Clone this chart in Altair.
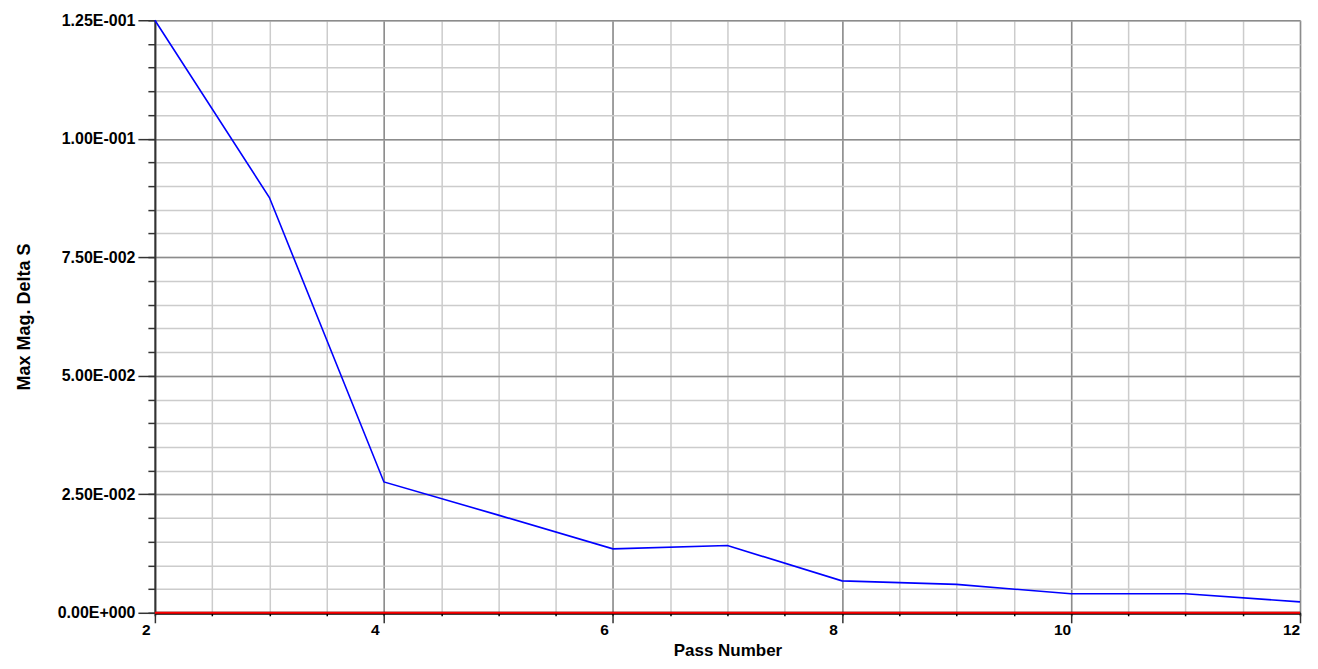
import altair as alt
import pandas as pd

# Data
passes = [2, 3, 4, 5, 6, 7, 8, 9, 10, 11, 12]
delta_s = [0.1250, 0.0876, 0.0276, 0.0206, 0.01348, 0.01418, 0.00674, 0.0060, 0.0040, 0.0040, 0.0023]
baseline = [0.0] * len(passes)

x_major = [2, 4, 6, 8, 10, 12]
x_minor = [2, 2.5, 3, 3.5, 4, 4.5, 5, 5.5, 6, 6.5, 7, 7.5, 8, 8.5, 9, 9.5, 10, 10.5, 11, 11.5, 12]
y_major = [0.0, 0.025, 0.05, 0.075, 0.1, 0.125]
y_labels = ["0.00E+000", "2.50E-002", "5.00E-002", "7.50E-002", "1.00E-001", "1.25E-001"]
y_minor = [i * 0.005 for i in range(26)]

df = pd.DataFrame({"pass": passes, "delta": delta_s, "base": baseline})

FONT = "Liberation Sans"
xs = alt.Scale(domain=[2, 12], nice=False, zero=False)
ys = alt.Scale(domain=[0, 0.125], nice=False)

step = y_major[1] - y_major[0]
label_expr = "[" + ",".join("'%s'" % s for s in y_labels) + "][round(datum.value / %r)]" % step

minor = alt.Chart(df).mark_point(opacity=0).encode(
    x=alt.X("pass:Q", scale=xs, axis=alt.Axis(
        values=x_minor, grid=True, gridColor="#cccccc", gridWidth=1.5,
        labels=False, ticks=True, tickSize=3, tickColor="#000000", tickWidth=1.5,
        domain=False, title=None, orient="bottom")),
    y=alt.Y("delta:Q", scale=ys, axis=alt.Axis(
        values=y_minor, grid=True, gridColor="#cccccc", gridWidth=1.5,
        labels=False, ticks=True, tickSize=7, tickColor="#333333", tickWidth=1.5,
        domain=False, title=None, orient="left")),
)

major = alt.Chart(df).mark_line(color="#0000ff", strokeWidth=1.6).encode(
    x=alt.X("pass:Q", scale=xs, axis=alt.Axis(
        values=x_major, grid=True, gridColor="#8c8c8c", gridWidth=1.5,
        labels=True, labelFont=FONT, labelFontSize=15.5, labelFontWeight="bold",
        labelColor="#000000", labelPadding=0, labelOffset=-9, labelFlush=False,
        tickSize=10, tickColor="#333333", tickWidth=1.5,
        domain=True, domainColor="#000000", domainWidth=3,
        title="Pass Number", titleFont=FONT, titleFontSize=17, titleFontWeight="bold",
        titleColor="#000000", titlePadding=4, orient="bottom")),
    y=alt.Y("delta:Q", scale=ys, axis=alt.Axis(
        values=y_major, grid=True, gridColor="#8c8c8c", gridWidth=1.5,
        labelExpr=label_expr, labelFont=FONT, labelFontSize=16, labelFontWeight="bold",
        labelColor="#000000", labelPadding=3, labelFlush=False,
        tickSize=17, tickColor="#333333", tickWidth=1.5,
        domain=True, domainColor="#333333", domainWidth=2,
        title="Max Mag. Delta S", titleFont=FONT, titleFontSize=18, titleFontWeight="bold",
        titleColor="#000000", titlePadding=24, orient="left")),
)

zero_line = alt.Chart(df).mark_line(color="#ff0000", strokeWidth=2).encode(
    x=alt.X("pass:Q", scale=xs, axis=None),
    y=alt.Y("base:Q", scale=ys, axis=None),
)

chart = alt.layer(minor, major, zero_line).resolve_axis(
    x="independent", y="independent"
).properties(
    width=1146, height=593,
    autosize=alt.AutoSizeParams(type="none"),
    padding={"left": 147, "top": 12, "right": 10, "bottom": 48},
).configure_view(
    stroke="#333333", strokeWidth=2
).configure(background="#ffffff")

chart.save("out.html", embed_options={"renderer": "svg", "actions": False})
